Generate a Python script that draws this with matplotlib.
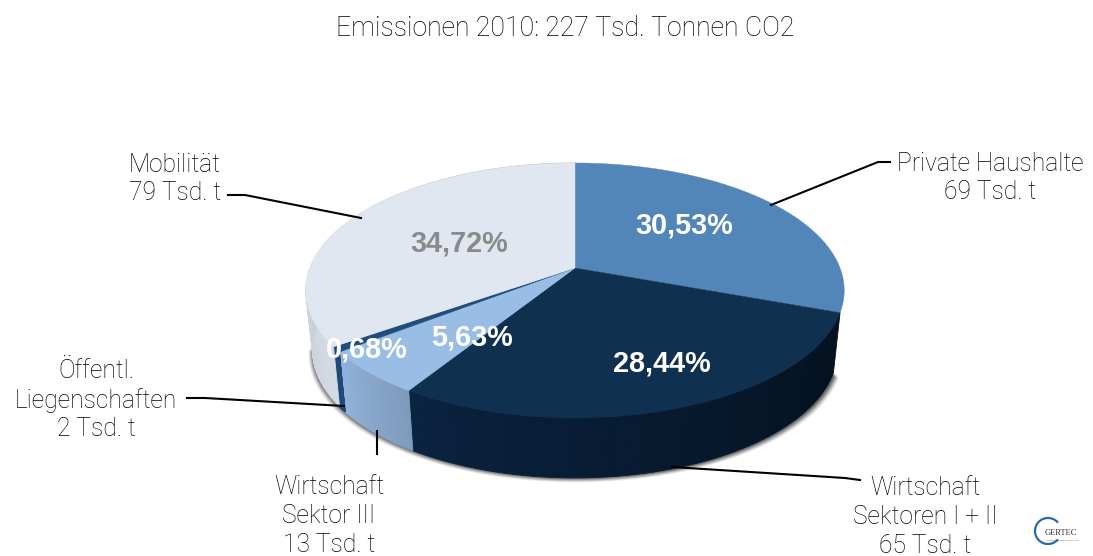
#!/usr/bin/env python3
# -*- coding: utf-8 -*-
import numpy as np
import matplotlib
matplotlib.use('Agg')
import matplotlib.pyplot as plt
from matplotlib.patches import Arc
from matplotlib.colors import to_rgb

title = 'Emissionen 2010: 227 Tsd. Tonnen CO2'
shares = [30.53, 28.44, 5.63, 0.68, 34.72]
pct_labels = ['30,53%', '28,44%', '5,63%', '0,68%', '34,72%']
names = ['Private Haushalte\n69 Tsd. t',
         'Wirtschaft\nSektoren I + II\n65 Tsd. t',
         'Wirtschaft\nSektor III\n13 Tsd. t',
         'Öffentl.\nLiegenschaften\n2 Tsd. t',
         'Mobilität\n79 Tsd. t']

top_colors = ['#5285b8', '#10304f', '#9abde6', '#1f4e7d', '#e0e7f1']
side_left = [None, '#0a2340', '#92b3da', '#1f4a78', '#aab2bc']
side_right = [None, '#03101d', '#7f9cbd', '#1f4a78', '#d4dbe4']
pct_colors = ['white', 'white', 'white', 'white', '#8a8a8a']

# layout in pixels of the picture
pct_xy = [(684, 226), (662, 363), (472, 338), (367, 349), (459, 243)]
name_xy = [(990, 178), (925, 517), (329, 516), (96, 400), (175, 179)]
leaders = [[(771, 205), (878, 162), (890, 162)],
           [(672, 467), (845, 478), (860, 480)],
           [(377, 431), (377, 454)],
           [(344, 406), (205, 398), (187, 398)],
           [(361, 218), (245, 195), (228, 195)]]

CX, CY = 575, 268
B, A, K = 265.0, 123.5, 0.176
DEPTH = 60
SHRINK = 0.975
W, H = 1093, 556

plt.rcParams['font.family'] = ['Liberation Sans', 'DejaVu Sans']


def rim(theta):
    # theta clockwise from 12 o'clock, tilted circle in perspective
    u, v = np.sin(theta), np.cos(theta)
    d = 1 + K * v
    return CX + B * u / d, (H - CY) + A * v / d


def low(x, y):
    # same rim on the underside, a bit narrower
    return CX + (x - CX) * SHRINK, y - DEPTH


fig = plt.figure(figsize=(W / 100, H / 100), dpi=100)
ax = fig.add_axes([0, 0, 1, 1])
ax.set_xlim(0, W)
ax.set_ylim(0, H)
ax.axis('off')

edges = np.radians(np.concatenate([[0], np.cumsum(shares)]) * 3.6)

# soft shadow under the front rim
t = np.linspace(np.radians(110), np.radians(262), 200)
sx, sy = low(*rim(t))
for grow, alpha in zip([5, 4, 3, 2, 1], [0.08, 0.12, 0.16, 0.2, 0.25]):
    ax.fill(CX + (sx - CX) * (1 + grow / 270) + 1, sy - grow * 0.9,
            color='black', alpha=alpha, lw=0, zorder=1)

# side walls
for i in range(len(shares)):
    if side_left[i] is None:
        continue
    a = np.linspace(edges[i], edges[i + 1], 60)
    c0, c1 = np.array(to_rgb(side_right[i])), np.array(to_rgb(side_left[i]))
    for j in range(len(a) - 1):
        x, y = rim(a[j:j + 2])
        lx, ly = low(x, y)
        f = j / (len(a) - 2)
        col = c0 + (c1 - c0) * f
        ax.fill([x[0], x[1], lx[1], lx[0]], [y[0], y[1], ly[1], ly[0]],
                color=col, ec=col, lw=0.6, zorder=2)

# top face
for i in range(len(shares)):
    a = np.linspace(edges[i], edges[i + 1], 120)
    x, y = rim(a)
    ax.fill(np.r_[CX, x], np.r_[H - CY, y], color=top_colors[i], lw=0.3,
            ec=top_colors[i], zorder=3)

for lab, col, (px, py) in zip(pct_labels, pct_colors, pct_xy):
    ax.text(px, H - py, lab, color=col, fontsize=20.8, fontweight='bold',
            ha='center', va='center', zorder=5)

for name, (px, py) in zip(names, name_xy):
    ax.text(px, H - py, name, color='black', fontsize=17.7, family=['Roboto', 'DejaVu Sans'],
            fontweight='light', ha='center', va='center', linespacing=1.24, zorder=5)

for pts in leaders:
    ax.plot([p[0] for p in pts], [H - p[1] for p in pts], color='black', lw=1.5, zorder=4)

ax.text(565, H - 29, title, color='black', fontsize=19.2, family=['Roboto', 'DejaVu Sans'],
        fontweight='light', ha='center', va='center')

# logo bottom right
ax.add_patch(Arc((1048, H - 531), 26, 26, theta1=40, theta2=320, color='#2a6aa8', lw=1.6))
ax.text(1045, H - 533, 'GERTEC', color='#333333', fontsize=6, family='Liberation Serif',
        ha='left', va='center')
ax.text(1047, H - 540, 'INGENIEURGESELLSCHAFT', color='#555555', fontsize=1.7,
        ha='left', va='center')

fig.savefig('out.png', dpi=100)
